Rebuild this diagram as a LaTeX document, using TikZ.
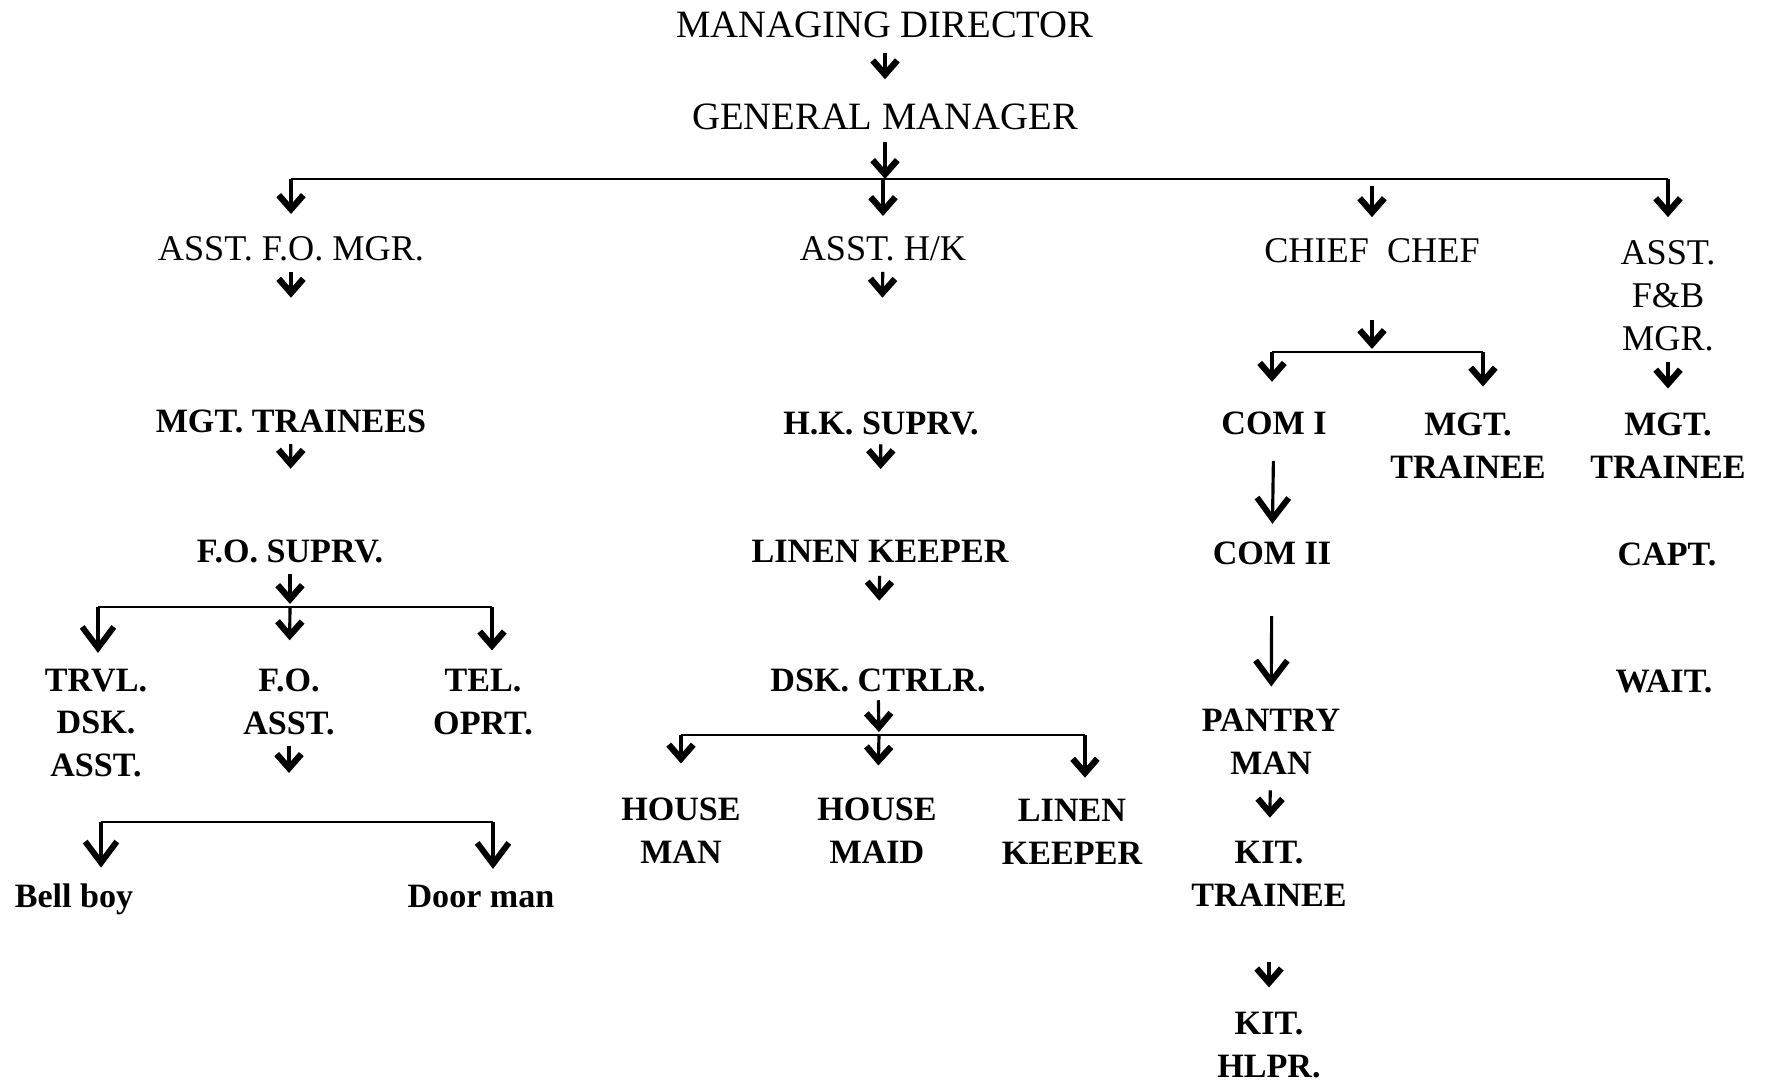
\documentclass[tikz,border=0pt]{standalone}
\usepackage{fontspec}
\setmainfont{Liberation Serif}
\usetikzlibrary{arrows.meta}

\begin{document}
\begin{tikzpicture}[x=0.01cm,y=-0.01cm,
  rmtext/.style={inner sep=0pt,align=center,font=\fontsize{10.3}{12.2}\selectfont},
  bftext/.style={inner sep=0pt,align=center,font=\bfseries\fontsize{9.7}{12.2}\selectfont},
  bar/.style={line width=0.8pt},
  arr/.style={line width=0.9pt,-{Straight Barb[length=4pt,width=7pt,line width=1.8pt]}},
  bigarr/.style={line width=0.9pt,-{Straight Barb[length=6pt,width=9pt,line width=1.7pt]}}]
  \useasboundingbox (0,0) rectangle (1768,1082);
  \node[rmtext,font=\fontsize{11}{13}\selectfont] (md) at (885,25) {MANAGING DIRECTOR};
  \node[rmtext,font=\fontsize{11}{13}\selectfont] (gm) at (885,117) {GENERAL MANAGER};
  \node[rmtext] (afo) at (291,249) {ASST. F.O. MGR.};
  \node[rmtext] (ahk) at (883,249) {ASST. H/K};
  \node[rmtext] (cc) at (1372,251) {CHIEF\ \ CHEF};
  \node[rmtext] (afb) at (1668,296) {ASST.\\F\&B\\MGR.};
  \node[bftext] (mgt) at (291,421) {MGT. TRAINEES};
  \node[bftext] (hks) at (881,423) {H.K. SUPRV.};
  \node[bftext] (fos) at (290,551) {F.O. SUPRV.};
  \node[bftext] (lk) at (880,551) {LINEN KEEPER};
  \node[bftext] (trvl) at (96,723) {TRVL.\\DSK.\\ASST.};
  \node[bftext] (foa) at (289,702) {F.O.\\ASST.};
  \node[bftext] (tel) at (483,702) {TEL.\\OPRT.};
  \node[bftext,anchor=base] (bell) at (74,907) {Bell boy};
  \node[bftext,anchor=base] (door) at (481,907) {Door man};
  \node[bftext] (dsk) at (878,680) {DSK. CTRLR.};
  \node[bftext] (hman) at (681,831) {HOUSE\\MAN};
  \node[bftext] (hmaid) at (877,831) {HOUSE\\MAID};
  \node[bftext] (lk2) at (1072,832) {LINEN\\KEEPER};
  \node[bftext] (com1) at (1274,423) {COM I};
  \node[bftext] (mgt2) at (1468,446) {MGT.\\TRAINEE};
  \node[bftext] (mgt3) at (1668,446) {MGT.\\TRAINEE};
  \node[bftext] (capt) at (1667,554) {CAPT.};
  \node[bftext] (wait) at (1664,681) {WAIT.};
  \node[bftext] (com2) at (1272,553) {COM II};
  \node[bftext] (pantry) at (1271,742) {PANTRY\\MAN};
  \node[bftext] (kt) at (1269,874) {KIT.\\TRAINEE};
  \node[bftext] (kh) at (1269,1045) {KIT.\\HLPR.};

  \coordinate (b1) at (885,179);
  \coordinate (fb) at (290,607);
  \coordinate (fbl) at (98,607);
  \coordinate (fbr) at (492,607);
  \coordinate (bbl) at (101,822);
  \coordinate (bbr) at (493,822);
  \coordinate (db) at (879,735);
  \coordinate (dbl) at (681,735);
  \coordinate (dbr) at (1085,735);
  \coordinate (cb) at (1372,352);
  \coordinate (cbl) at (1272,352);
  \coordinate (cbr) at (1483,352);

  \draw[arr,shorten <=0.14cm,shorten >=0.24cm] (md) -- (gm);
  \draw[arr,shorten <=0.11cm] (gm) -- (b1);
  \draw[bar] (afo |- b1) -- (afb |- b1);
  \draw[arr,shorten >=0.22cm] (afo |- b1) -- (afo);
  \draw[arr,shorten >=0.20cm] (ahk |- b1) -- (ahk);
  \draw[arr,shorten <=0.07cm,shorten >=0.21cm] (cc |- b1) -- (cc);
  \draw[arr,shorten >=0.23cm] (afb |- b1) -- (afb);

  \draw[arr,shorten <=0.10cm,shorten >=1.11cm] (afo) -- (mgt);
  \draw[arr,shorten <=0.11cm,shorten >=0.70cm] (mgt) -- (fos);
  \draw[arr,shorten <=0.11cm,shorten >=0.03cm] (fos) -- (fb);
  \draw[bar] (fbl) -- (fbr);
  \draw[bigarr,shorten >=0.15cm] (fbl) -- (fbl |- trvl.north);
  \draw[arr,shorten >=0.28cm] (fb) -- (foa);
  \draw[arr,shorten >=0.18cm] (fbr) -- (fbr |- tel.north);
  \draw[arr,shorten <=0.10cm,shorten >=0.49cm] (foa) -- (foa |- bbl);
  \draw[bar] (bbl) -- (bbr);
  \draw[bigarr,shorten >=0.15cm] (bbl) -- (bbl |- bell.north);
  \draw[bigarr,shorten >=0.15cm] (bbr) -- (bbr |- door.north);

  \draw[arr,shorten <=0.10cm,shorten >=1.13cm] (ahk) -- (hks);
  \draw[arr,shorten <=0.09cm,shorten >=0.70cm] (hks) -- (lk);
  \draw[arr,shorten <=0.13cm,shorten >=0.67cm] (lk) -- (dsk);
  \draw[arr,shorten <=0.08cm,shorten >=0.03cm] (dsk) -- (db);
  \draw[bar] (dbl) -- (dbr);
  \draw[arr,shorten >=0.34cm] (dbl) -- (hman);
  \draw[arr,shorten >=0.32cm] (db) -- (hmaid);
  \draw[arr,shorten >=0.21cm] (dbr) -- (dbr |- lk2.north);

  \draw[arr,shorten <=0.56cm,shorten >=0.03cm] (cc) -- (cb);
  \draw[bar] (cbl) -- (cbr);
  \draw[arr,shorten >=0.29cm] (cbl) -- (cbl |- com1.north);
  \draw[arr,shorten >=0.26cm] (cbr) -- (cbr |- mgt2.north);
  \draw[arr,shorten <=0.10cm,shorten >=0.24cm] (afb) -- (mgt3);
  \draw[bigarr,shorten <=0.26cm,shorten >=0.17cm] (com1) -- (com2);
  \draw[bigarr,shorten <=0.51cm,shorten >=0.22cm] (com2) -- (pantry);
  \draw[arr,shorten <=0.15cm,shorten >=0.23cm] (pantry) -- (kt);
  \draw[arr,shorten <=0.55cm,shorten >=0.24cm] (kt) -- (kh);
\end{tikzpicture}
\end{document}
